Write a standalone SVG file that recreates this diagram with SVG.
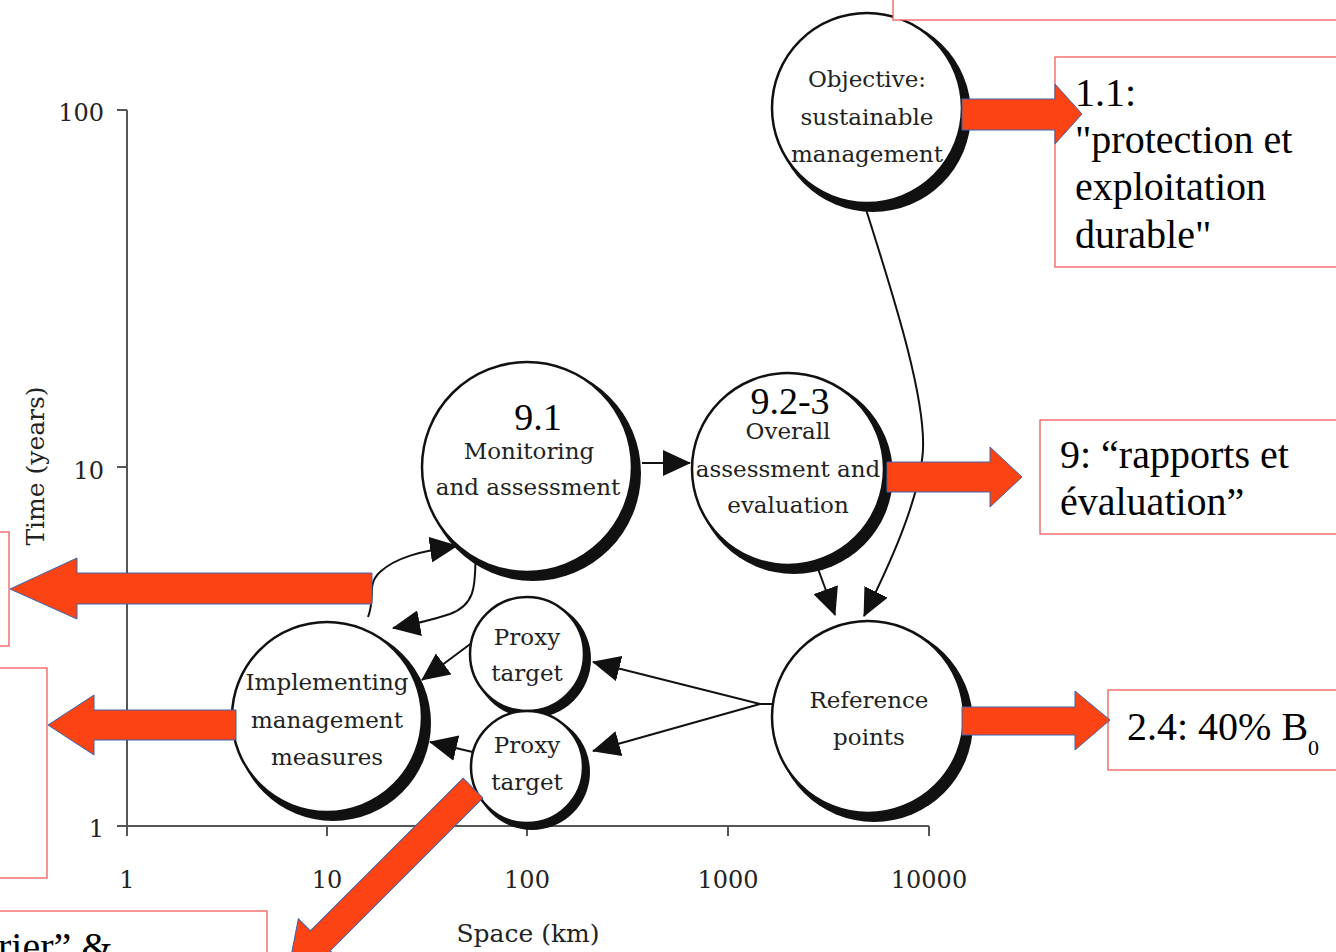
<svg xmlns="http://www.w3.org/2000/svg" width="1336" height="952" viewBox="0 0 1336 952">
<style>
.bg{fill:#ffffff}
.axis{stroke:#555;stroke-width:2;fill:none}
.tick{font-family:"DejaVu Serif","Liberation Serif",serif;font-size:24px;fill:#222}
.axlab{font-family:"DejaVu Serif","Liberation Serif",serif;font-size:25px;fill:#222;text-anchor:middle}
.shadow{fill:#111}
.node{fill:#fff;stroke:#111;stroke-width:2.5}
.lab{font-family:"DejaVu Serif","Liberation Serif",serif;font-size:23px;fill:#222;text-anchor:middle}
.num{font-family:"Liberation Serif","Times New Roman",serif;font-size:38px;fill:#000;text-anchor:middle}
.conn{stroke:#111;stroke-width:2;fill:none}
.box{fill:#fff;stroke:#f25c5c;stroke-width:1.3}
.btxt{font-family:"Liberation Serif","Times New Roman",serif;font-size:40px;fill:#000}
.red{fill:#fb4313;stroke:#3b64ad;stroke-width:1}
</style>
<defs>
<marker id="ah" viewBox="0 0 28 26" refX="27" refY="13" markerWidth="28" markerHeight="26" markerUnits="userSpaceOnUse" orient="auto">
<path d="M0,0 L28,13 L0,26 z" fill="#111"/>
</marker>
</defs>
<rect class="bg" x="0" y="0" width="1336" height="952"/>

<g id="axes">
<path class="axis" d="M127 110 L127 836 M117 110 L127 110 M117 467 L127 467 M117 826 L929 826 M327 826 L327 836 M527 826 L527 836 M728 826 L728 836 M929 826 L929 836"/>
<text class="tick" x="104" y="121" text-anchor="end">100</text>
<text class="tick" x="104" y="479" text-anchor="end">10</text>
<text class="tick" x="104" y="837" text-anchor="end">1</text>
<text class="tick" x="127" y="888" text-anchor="middle">1</text>
<text class="tick" x="327" y="888" text-anchor="middle">10</text>
<text class="tick" x="527" y="888" text-anchor="middle">100</text>
<text class="tick" x="728" y="888" text-anchor="middle">1000</text>
<text class="tick" x="929" y="888" text-anchor="middle">10000</text>
<text class="axlab" x="528" y="942">Space (km)</text>
<text class="axlab" transform="translate(44 466) rotate(-90)">Time (years)</text>
</g>

<g id="connectors">
<path class="conn" d="M642 463 L690 463" marker-end="url(#ah)"/>
<path class="conn" d="M810 547 L835 615" marker-end="url(#ah)"/>
<path class="conn" d="M863 200 C895 300 930 410 922 460 C916 505 892 560 864 616" marker-end="url(#ah)"/>
<path class="conn" d="M773 704 L760 704 L593 662" marker-end="url(#ah)"/>
<path class="conn" d="M760 704 L593 751" marker-end="url(#ah)"/>
<path class="conn" d="M473 642 L422 680" marker-end="url(#ah)"/>
<path class="conn" d="M477 753 L430 742" marker-end="url(#ah)"/>
<path class="conn" d="M368 617 C376 597 366 585 380 572 C395 558 420 551 457 546" marker-end="url(#ah)"/>
<path class="conn" d="M476 547 C474 578 480 603 450 614 C432 620 415 624 393 628" marker-end="url(#ah)"/>
</g>

<g id="node-objective">
<circle class="shadow" cx="873" cy="114" r="98"/>
<circle class="node" cx="867" cy="108" r="95"/>
<text class="lab" x="867" y="87">Objective:</text>
<text class="lab" x="867" y="125">sustainable</text>
<text class="lab" x="867" y="162">management</text>
</g>

<g id="node-monitoring">
<circle class="shadow" cx="533" cy="473" r="108"/>
<circle class="node" cx="527" cy="467" r="105"/>
<text class="num" x="538" y="430">9.1</text>
<text class="lab" x="529" y="459">Monitoring</text>
<text class="lab" x="528" y="495">and assessment</text>
</g>

<g id="node-overall">
<circle class="shadow" cx="794" cy="475" r="99"/>
<circle class="node" cx="788" cy="469" r="96"/>
<text class="num" x="790" y="414">9.2-3</text>
<text class="lab" x="788" y="439">Overall</text>
<text class="lab" x="788" y="477">assessment and</text>
<text class="lab" x="788" y="513">evaluation</text>
</g>

<g id="node-implementing">
<circle class="shadow" cx="333" cy="723" r="98"/>
<circle class="node" cx="327" cy="717" r="95"/>
<text class="lab" x="327" y="690">Implementing</text>
<text class="lab" x="327" y="728">management</text>
<text class="lab" x="327" y="765">measures</text>
</g>

<g id="node-proxy1">
<circle class="shadow" cx="532" cy="659" r="59"/>
<circle class="node" cx="527" cy="654" r="57"/>
<text class="lab" x="527" y="645">Proxy</text>
<text class="lab" x="527" y="681">target</text>
</g>

<g id="node-proxy2">
<circle class="shadow" cx="532" cy="772" r="58"/>
<circle class="node" cx="527" cy="767" r="56"/>
<text class="lab" x="527" y="753">Proxy</text>
<text class="lab" x="527" y="790">target</text>
</g>

<g id="node-reference">
<circle class="shadow" cx="874" cy="723" r="99"/>
<circle class="node" cx="868" cy="717" r="96"/>
<text class="lab" x="869" y="708">Reference</text>
<text class="lab" x="869" y="745">points</text>
</g>

<g id="box-top">
<rect class="box" x="893" y="-5" width="450" height="25"/>
</g>
<g id="box-1-1">
<rect class="box" x="1055" y="57" width="290" height="210"/>
<text class="btxt" x="1075" y="106">1.1:</text>
<text class="btxt" x="1075" y="153">"protection et</text>
<text class="btxt" x="1075" y="200">exploitation</text>
<text class="btxt" x="1075" y="248">durable"</text>
</g>
<g id="box-9">
<rect class="box" x="1040" y="420" width="305" height="114"/>
<text class="btxt" x="1060" y="468">9: “rapports et</text>
<text class="btxt" x="1060" y="515">évaluation”</text>
</g>
<g id="box-2-4">
<rect class="box" x="1108" y="690" width="240" height="80"/>
<text class="btxt" x="1127" y="740">2.4: 40% B</text>
<text class="btxt" x="1308" y="755" style="font-size:22px">0</text>
</g>
<g id="box-left1">
<rect class="box" x="-5" y="532" width="14" height="114"/>
</g>
<g id="box-left2">
<rect class="box" x="-5" y="668" width="52" height="210"/>
</g>
<g id="box-bottom">
<rect class="box" x="-5" y="911" width="272" height="60"/>
<text class="btxt" x="-2" y="960">rier” &amp;</text>
</g>

<g id="callout-arrows">
<polygon class="red" points="962,99 1055,99 1055,84 1082,114 1055,144 1055,130 962,130"/>
<polygon class="red" points="887,462 990,462 990,447 1022,477 990,507 990,492 887,492"/>
<polygon class="red" points="962,707 1075,707 1075,691 1110,720 1075,750 1075,735 962,735"/>
<polygon class="red" points="372,573 77,573 77,558 10,589 77,619 77,604 372,604"/>
<polygon class="red" points="236,710 94,710 94,695 48,725 94,755 94,740 236,740"/>
<polygon class="red" transform="translate(473 788) rotate(135)" points="0,-14 216,-14 216,-31 262,0 216,31 216,14 0,14"/>
</g>
</svg>
